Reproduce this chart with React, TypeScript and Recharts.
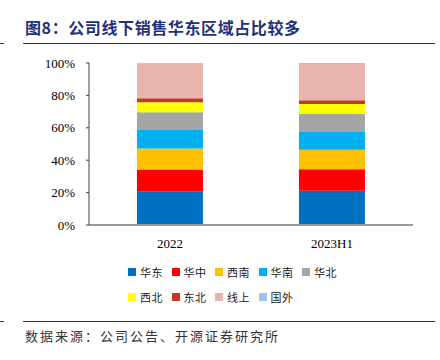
import { BarChart, Bar, XAxis, YAxis } from "recharts";

const periods = ["2022", "2023H1"];
const regions = ["华东", "华中", "西南", "华南", "华北", "西北", "东北", "线上", "国外"];
const colors = ["#0070C0", "#FF0000", "#FFC000", "#00B0F0", "#A5A5A5", "#FFFF00", "#C0392B", "#EAB4AE", "#9DC3E6"];
// share of offline sales per region, %
const share2022 = [20.5, 13.8, 12.9, 11.9, 10.5, 6.2, 2.4, 21.4, 0.4];
const share2023H1 = [21.1, 13.3, 12.1, 11.3, 10.9, 6.0, 2.3, 22.4, 0.6];
const yTicks = [0, 20, 40, 60, 80, 100];

const data = periods.map((p, i) => {
  const vals = i === 0 ? share2022 : share2023H1;
  const row: Record<string, number | string> = { period: p };
  regions.forEach((r, j) => (row[r] = vals[j]));
  return row;
});

const serif = '"Liberation Serif", "Times New Roman", serif';
const cjk = '"Noto Sans CJK SC", sans-serif';

export default function App() {
  return (
    <div style={{ position: "fixed", left: 0, top: 0, width: 440, height: 360, background: "#fff", overflow: "hidden" }}>
      <div style={{ position: "absolute", left: 25, top: 15, fontFamily: cjk, fontWeight: 700, fontSize: 16, color: "#1d3278", letterSpacing: 0.6 }}>
        图8：公司线下销售华东区域占比较多
      </div>
      <div style={{ position: "absolute", left: 0, top: 43, width: 4, borderTop: "1px solid #333" }} />
      <div style={{ position: "absolute", left: 23, top: 43, width: 412, borderTop: "1px solid #333" }} />

      <div style={{ position: "absolute", left: 0, top: 0 }}>
        <BarChart
          width={440}
          height={360}
          data={data}
          margin={{ top: 63, right: 27, left: 39, bottom: 135 - 30 }}
          barCategoryGap="29.6%"
        >
          {/* boundary ticks between categories, pointing up */}
          <XAxis
            xAxisId="edge"
            type="number"
            domain={[0, 2]}
            ticks={[0, 1, 2]}
            height={0}
            tick={() => <g />}
            tickSize={-4}
            tickLine={{ stroke: "#333" }}
            axisLine={false}
          />
          <XAxis
            dataKey="period"
            height={30}
            tickLine={false}
            axisLine={{ stroke: "#9a9a9a", strokeWidth: 2 }}
            tick={{ fill: "#000", fontSize: 13, fontFamily: serif }}
            tickMargin={8}
          />
          <YAxis
            width={50}
            domain={[0, 100]}
            ticks={yTicks}
            tickFormatter={(v) => `${v}%`}
            axisLine={{ stroke: "#404040" }}
            tickLine={{ stroke: "#404040" }}
            tickSize={3}
            tickMargin={11}
            tick={{ fill: "#000", fontSize: 13, fontFamily: serif }}
          />
          {regions.map((r, i) => (
            <Bar key={r} dataKey={r} stackId="a" fill={colors[i]} isAnimationActive={false} />
          ))}
        </BarChart>
      </div>

      <div style={{ position: "absolute", left: 128, top: 264, width: 230, display: "flex", flexWrap: "wrap", rowGap: 9 }}>
        {regions.map((r, i) => (
          <div key={r} style={{ width: 43.5, display: "flex", alignItems: "center", height: 16 }}>
            <span style={{ width: 8, height: 8, background: colors[i], display: "inline-block", marginRight: 4 }} />
            <span style={{ fontFamily: cjk, fontSize: 11, color: "#222", letterSpacing: 0.5 }}>{r}</span>
          </div>
        ))}
      </div>

      <div style={{ position: "absolute", left: 0, top: 321, width: 4, borderTop: "1px solid #333" }} />
      <div style={{ position: "absolute", left: 23, top: 321, width: 412, borderTop: "1px solid #333" }} />
      <div style={{ position: "absolute", left: 25, top: 326, fontFamily: cjk, fontSize: 13, color: "#333", letterSpacing: 2 }}>
        数据来源：公司公告、开源证券研究所
      </div>
    </div>
  );
}
